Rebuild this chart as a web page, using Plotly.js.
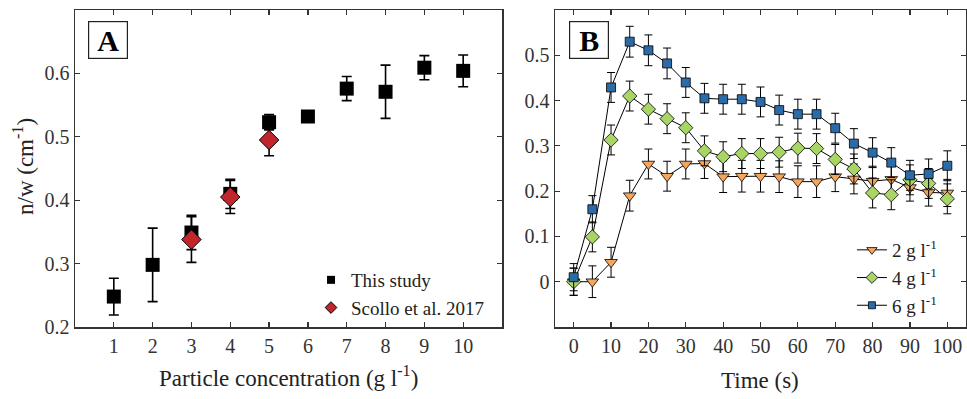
<!DOCTYPE html>
<html>
<head>
<meta charset="utf-8">
<script src="https://cdn.plot.ly/plotly-3.0.1.min.js"></script>
<style>html,body{margin:0;padding:0;background:#fff;}#chart{width:967px;height:399px;}</style>
</head>
<body>
<div id="chart"></div>
<script>
// Panel A data
const concA = [1, 2, 3, 4, 5, 6, 7, 8, 9, 10];
const studyMean = [0.248, 0.298, 0.349, 0.41, 0.523, 0.532, 0.576, 0.571, 0.609, 0.604];
const studyErr = [0.029, 0.058, 0.027, 0.023, 0.012, 0.003, 0.019, 0.042, 0.019, 0.025];
const scolloConc = [3, 4, 5];
const scolloMean = [0.338, 0.405, 0.495];
const scolloErr = [0.036, 0.026, 0.025];
const ticksA_x = [1, 2, 3, 4, 5, 6, 7, 8, 9, 10];
const ticksA_y = [0.2, 0.3, 0.4, 0.5, 0.6, 0.7];

// Panel B data
const timeB = [0, 5, 10, 15, 20, 25, 30, 35, 40, 45, 50, 55, 60, 65, 70, 75, 80, 85, 90, 95, 100];
const g2 = [0, 0, 0.043, 0.19, 0.26, 0.233, 0.26, 0.261, 0.232, 0.233, 0.233, 0.232, 0.221, 0.221, 0.232, 0.227, 0.222, 0.226, 0.208, 0.197, 0.196];
const g2Err = [0.03, 0.035, 0.033, 0.034, 0.033, 0.033, 0.033, 0.033, 0.035, 0.035, 0.035, 0.035, 0.035, 0.035, 0.033, 0.033, 0.033, 0.033, 0.03, 0.03, 0.03];
const g4 = [0, 0.099, 0.313, 0.41, 0.381, 0.36, 0.34, 0.289, 0.276, 0.283, 0.283, 0.286, 0.295, 0.294, 0.27, 0.249, 0.196, 0.192, 0.225, 0.217, 0.183];
const g4Err = [0.03, 0.033, 0.033, 0.033, 0.033, 0.033, 0.033, 0.033, 0.033, 0.033, 0.033, 0.033, 0.033, 0.033, 0.033, 0.033, 0.033, 0.033, 0.033, 0.033, 0.033];
const g6 = [0.01, 0.16, 0.429, 0.53, 0.511, 0.482, 0.44, 0.405, 0.403, 0.403, 0.397, 0.379, 0.37, 0.37, 0.339, 0.305, 0.285, 0.263, 0.235, 0.238, 0.256];
const g6Err = [0.03, 0.03, 0.033, 0.034, 0.034, 0.034, 0.033, 0.033, 0.033, 0.033, 0.033, 0.033, 0.033, 0.033, 0.033, 0.033, 0.033, 0.033, 0.033, 0.033, 0.033];
const ticksB_x = [0, 10, 20, 30, 40, 50, 60, 70, 80, 90, 100];
const ticksB_y = [0, 0.1, 0.2, 0.3, 0.4, 0.5];

const serif = "Liberation Serif";
const axisCol = "#333333";
const cRed = '#C0262B', cOrange = '#F6A55C', cGreen = '#A9D466', cBlue = '#2A6BA8';

function eb(arr, th, w) {
  return {type: 'data', array: arr, visible: true, color: '#000', thickness: th, width: w};
}

const traces = [
  {x: concA, y: studyMean, type: 'scatter', mode: 'markers', name: 'This study', showlegend: false,
   xaxis: 'x', yaxis: 'y',
   marker: {symbol: 'square', size: 14, color: '#000000'}, error_y: eb(studyErr, 1.6, 5)},
  {x: scolloConc, y: scolloMean, type: 'scatter', mode: 'markers', name: 'Scollo et al. 2017', showlegend: false,
   xaxis: 'x', yaxis: 'y',
   marker: {symbol: 'diamond', size: 15, color: cRed, line: {color: '#000', width: 1}}, error_y: eb(scolloErr, 1.6, 5)},
  {x: timeB, y: g2, type: 'scatter', mode: 'lines+markers', name: '2 g l<sup>-1</sup>', showlegend: false,
   xaxis: 'x2', yaxis: 'y2', line: {color: '#000', width: 1},
   marker: {symbol: 'triangle-down', size: 11, color: cOrange, line: {color: '#000', width: 0.8}}, error_y: eb(g2Err, 1, 4)},
  {x: timeB, y: g4, type: 'scatter', mode: 'lines+markers', name: '4 g l<sup>-1</sup>', showlegend: false,
   xaxis: 'x2', yaxis: 'y2', line: {color: '#000', width: 1},
   marker: {symbol: 'diamond', size: 11, color: cGreen, line: {color: '#000', width: 0.8}}, error_y: eb(g4Err, 1, 4)},
  {x: timeB, y: g6, type: 'scatter', mode: 'lines+markers', name: '6 g l<sup>-1</sup>', showlegend: false,
   xaxis: 'x2', yaxis: 'y2', line: {color: '#000', width: 1},
   marker: {symbol: 'square', size: 9, color: cBlue, line: {color: '#000', width: 0.8}}, error_y: eb(g6Err, 1, 4)},
  // legend proxies (smaller symbols, as in the reference legends)
  {x: [null], y: [null], type: 'scatter', mode: 'markers', name: 'This study', xaxis: 'x', yaxis: 'y', legend: 'legend',
   marker: {symbol: 'square', size: 8, color: '#000'}},
  {x: [null], y: [null], type: 'scatter', mode: 'markers', name: 'Scollo et al. 2017', xaxis: 'x', yaxis: 'y', legend: 'legend',
   marker: {symbol: 'diamond', size: 9, color: cRed, line: {color: '#000', width: 1}}},
  {x: [null], y: [null], type: 'scatter', mode: 'lines+markers', name: '2 g l<sup>-1</sup>', xaxis: 'x2', yaxis: 'y2', legend: 'legend2',
   line: {color: '#000', width: 1}, marker: {symbol: 'triangle-down', size: 9, color: cOrange, line: {color: '#000', width: 0.8}}},
  {x: [null], y: [null], type: 'scatter', mode: 'lines+markers', name: '4 g l<sup>-1</sup>', xaxis: 'x2', yaxis: 'y2', legend: 'legend2',
   line: {color: '#000', width: 1}, marker: {symbol: 'diamond', size: 9, color: cGreen, line: {color: '#000', width: 0.8}}},
  {x: [null], y: [null], type: 'scatter', mode: 'lines+markers', name: '6 g l<sup>-1</sup>', xaxis: 'x2', yaxis: 'y2', legend: 'legend2',
   line: {color: '#000', width: 1}, marker: {symbol: 'square', size: 7, color: cBlue, line: {color: '#000', width: 0.8}}}
];

const axBase = {
  showgrid: false, zeroline: false, showline: true, linecolor: axisCol, linewidth: 1.5,
  mirror: 'ticks', ticks: 'inside', ticklen: 5, tickwidth: 1.2, tickcolor: axisCol,
  tickfont: {family: serif, size: 20, color: '#333'}
};

const layout = {
  width: 967, height: 399,
  margin: {l: 0, r: 0, t: 0, b: 0},
  paper_bgcolor: '#fff', plot_bgcolor: '#fff',
  font: {family: serif, color: '#222'},
  xaxis: Object.assign({}, axBase, {domain: [75/967, 502/967], range: [0, 11], tickvals: ticksA_x, anchor: 'y'}),
  yaxis: Object.assign({}, axBase, {domain: [72/399, 389/399], range: [0.2, 0.7], tickvals: ticksA_y, ticktext: ticksA_y.map(v => v.toFixed(1)), anchor: 'x'}),
  xaxis2: Object.assign({}, axBase, {domain: [555/967, 966/967], range: [-5, 105], tickvals: ticksB_x, anchor: 'y2'}),
  yaxis2: Object.assign({}, axBase, {domain: [72/399, 389/399], range: [-0.1, 0.6], tickvals: ticksB_y, ticktext: ['0', '0.1', '0.2', '0.3', '0.4', '0.5'], anchor: 'x2'}),
  legend: {x: 311/967, y: 1 - 261/399, xanchor: 'left', yanchor: 'top', bgcolor: 'rgba(0,0,0,0)',
           font: {family: serif, size: 19, color: '#222'}, tracegroupgap: 0, itemwidth: 30},
  legend2: {x: 0.881, y: 1 - 231/399, xanchor: 'left', yanchor: 'top', bgcolor: 'rgba(0,0,0,0)',
            font: {family: serif, size: 19, color: '#222'}, tracegroupgap: 0},
  showlegend: true,
  annotations: [
    {text: '<b>A</b>', xref: 'paper', yref: 'paper', x: 108/967, y: 1 - 40/399, xanchor: 'center', yanchor: 'middle',
     showarrow: false, font: {family: serif, size: 30, color: '#000'}, bordercolor: '#222', borderwidth: 1.2,
     bgcolor: '#fff', width: 36, height: 34, borderpad: 1},
    {text: '<b>B</b>', xref: 'paper', yref: 'paper', x: 589/967, y: 1 - 40/399, xanchor: 'center', yanchor: 'middle',
     showarrow: false, font: {family: serif, size: 30, color: '#000'}, bordercolor: '#222', borderwidth: 1.2,
     bgcolor: '#fff', width: 36, height: 34, borderpad: 1},
    {text: 'Particle concentration (g l<sup>-1</sup>)', xref: 'paper', yref: 'paper', x: 288/967, y: 1 - 376/399,
     xanchor: 'center', yanchor: 'middle', showarrow: false, font: {family: serif, size: 23, color: '#222'}},
    {text: 'Time (s)', xref: 'paper', yref: 'paper', x: 760/967, y: 1 - 380/399,
     xanchor: 'center', yanchor: 'middle', showarrow: false, font: {family: serif, size: 23, color: '#222'}},
    {text: 'n/w (cm<sup>-1</sup>)', xref: 'paper', yref: 'paper', x: 23/967, y: 1 - 167/399,
     xanchor: 'center', yanchor: 'middle', textangle: -90, showarrow: false, font: {family: serif, size: 23, color: '#222'}}
  ]
};

Plotly.newPlot('chart', traces, layout, {displayModeBar: false, staticPlot: true});
</script>
</body>
</html>
